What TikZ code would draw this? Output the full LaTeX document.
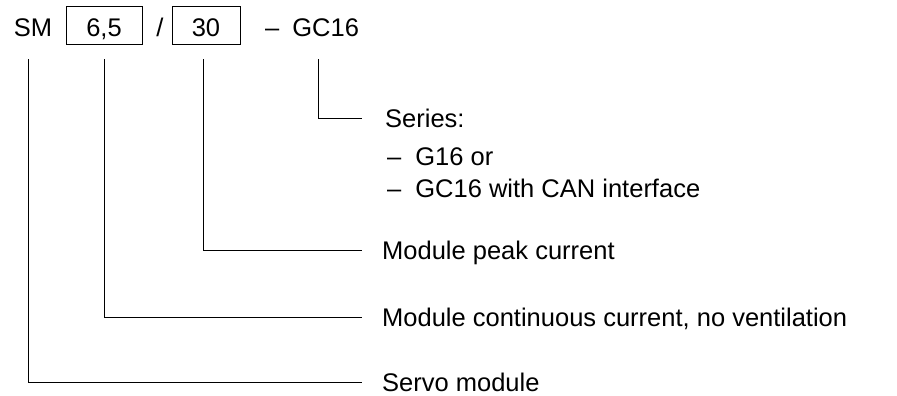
\documentclass[tikz,border=0pt]{standalone}
\usepackage{fontspec}
\setmainfont{Liberation Sans}
\usepackage{tikz}
\usetikzlibrary{positioning}
\tikzset{
  leadline/.style={line width=0.8pt},
  codebox/.style={draw, line width=0.8pt, minimum height=38pt, inner sep=0pt, text height=24pt, text depth=0pt, align=center},
  codetext/.style={minimum height=38pt, inner sep=0pt, text height=24pt, text depth=0pt, align=center},
  keylabel/.style={anchor=west, inner sep=0pt, text height=18pt, text depth=0pt, align=left}
}

\begin{document}
\begin{tikzpicture}[x=1pt, y=-1pt, every node/.style={font=\fontsize{25.5}{30}\selectfont}]
  \useasboundingbox (0,0) rectangle (897,396);
  \node[codetext] (sm) at (33,25) {SM};
  \node[codebox, minimum width=76pt] (cont) at (104,25) {6,5};
  \node[codetext] (slash) at (160,25) {/};
  \node[codebox, minimum width=68pt] (peak) at (206,25) {30};
  \node[codetext, anchor=west] (series) at (265,25) {–\hspace{13pt}GC16};
  \node[keylabel] (lseries) at (385,118) {Series:};
  \node[keylabel] (lg16) at (387,156) {–\hspace{14pt}G16 or};
  \node[keylabel] (lgc16) at (387,188) {–\hspace{14pt}GC16 with CAN interface};
  \node[keylabel] (lpeak) at (382,250) {Module peak current};
  \node[keylabel] (lcont) at (382,317) {Module continuous current, no ventilation};
  \node[keylabel] (lsm) at (382,382) {Servo module};
  \draw[leadline] ([xshift=6pt, yshift=-15pt]series.south) |- ([xshift=-23pt]lseries.west);
  \draw[leadline] ([xshift=-3pt, yshift=-15pt]peak.south) |- ([xshift=-20pt]lpeak.west);
  \draw[leadline] ([yshift=-15pt]cont.south) |- ([xshift=-20pt]lcont.west);
  \draw[leadline] ([xshift=-5pt, yshift=-15pt]sm.south) |- ([xshift=-20pt]lsm.west);
\end{tikzpicture}
\end{document}
